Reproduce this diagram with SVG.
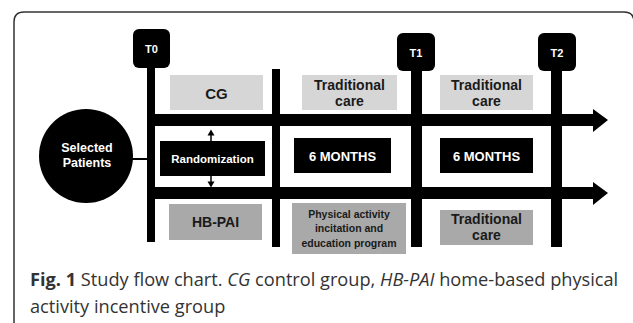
<svg xmlns="http://www.w3.org/2000/svg" width="633" height="323" viewBox="0 0 633 323">
<style>
.lbl{font-family:"Liberation Sans",Arial,sans-serif;font-weight:bold;text-anchor:middle}
.w{fill:#fff}
.k{fill:#1a1a1a}
.lt{fill:#d6d6d6}
.dk{fill:#a9a9a9}
.bar{fill:#000}
.cap{font-family:"Open Sans",sans-serif;font-size:18.2px;fill:#333}
</style>
<rect width="633" height="323" fill="#fff"/>
<path d="M14,330 L14,22 Q14,12 24,12 L624,12 Q634,12 634,22 L634,330" fill="none" stroke="#333" stroke-width="1.5"/>
<g id="connectors">
  <rect class="bar" x="147" y="68" width="8" height="174"/>
  <rect class="bar" x="272" y="69" width="8" height="178"/>
  <rect class="bar" x="411" y="71" width="11" height="176"/>
  <rect class="bar" x="551" y="71" width="11" height="176"/>
  <rect class="bar" x="147" y="114" width="448" height="12"/>
  <polygon class="bar" points="593,109 608,120 593,132"/>
  <rect class="bar" x="147" y="187" width="448" height="12"/>
  <polygon class="bar" points="593,182 608,193 593,205"/>
  <line x1="120" y1="159" x2="148" y2="159" stroke="#000" stroke-width="2"/>
  <line x1="211" y1="141" x2="211" y2="134" stroke="#000" stroke-width="1.5"/>
  <polygon class="bar" points="207.5,135.5 211,129.5 214.5,135.5"/>
  <line x1="211" y1="176" x2="211" y2="183" stroke="#000" stroke-width="1.5"/>
  <polygon class="bar" points="207.5,181.5 211,187.5 214.5,181.5"/>
</g>
<g id="patients">
  <circle cx="86" cy="156" r="47" fill="#000"/>
  <text class="lbl w" x="87" y="152" font-size="12.5">Selected</text>
  <text class="lbl w" x="87" y="167" font-size="12.5">Patients</text>
</g>
<g id="t0">
  <rect x="133" y="29" width="37" height="39" rx="6" fill="#000"/>
  <text class="lbl w" x="151.5" y="53" font-size="11">T0</text>
</g>
<g id="t1">
  <rect x="397" y="33" width="38" height="38" rx="6" fill="#000"/>
  <text class="lbl w" x="416" y="57" font-size="11">T1</text>
</g>
<g id="t2">
  <rect x="538" y="33" width="38" height="38" rx="6" fill="#000"/>
  <text class="lbl w" x="557" y="57" font-size="11">T2</text>
</g>
<g id="cg">
  <rect class="lt" x="170" y="75" width="93" height="35"/>
  <text class="lbl k" x="216.5" y="98.5" font-size="15">CG</text>
</g>
<g id="trad1">
  <rect class="lt" x="302" y="75" width="95" height="35"/>
  <text class="lbl k" x="349.5" y="90" font-size="14">Traditional</text>
  <text class="lbl k" x="349.5" y="106" font-size="14">care</text>
</g>
<g id="trad2">
  <rect class="lt" x="440" y="75" width="93" height="35"/>
  <text class="lbl k" x="486.5" y="90" font-size="14">Traditional</text>
  <text class="lbl k" x="486.5" y="106" font-size="14">care</text>
</g>
<g id="randomization">
  <rect x="160" y="141" width="105" height="35" fill="#000"/>
  <text class="lbl w" x="212.5" y="163" font-size="11.5">Randomization</text>
</g>
<g id="months1">
  <rect x="294" y="138" width="97" height="35" fill="#000"/>
  <text class="lbl w" x="342.5" y="161" font-size="13">6 MONTHS</text>
</g>
<g id="months2">
  <rect x="440" y="138" width="93" height="35" fill="#000"/>
  <text class="lbl w" x="486.5" y="161" font-size="13">6 MONTHS</text>
</g>
<g id="hbpai">
  <rect class="dk" x="169" y="204" width="93" height="36"/>
  <text class="lbl k" x="215.5" y="227" font-size="14">HB-PAI</text>
</g>
<g id="program">
  <rect class="dk" x="292" y="203" width="114" height="51"/>
  <text class="lbl k" x="349" y="218" font-size="10.5">Physical activity</text>
  <text class="lbl k" x="349" y="232" font-size="10.5">incitation and</text>
  <text class="lbl k" x="349" y="247" font-size="10.5">education  program</text>
</g>
<g id="trad3">
  <rect class="dk" x="440" y="210" width="93" height="35"/>
  <text class="lbl k" x="486.5" y="224" font-size="14">Traditional</text>
  <text class="lbl k" x="486.5" y="240" font-size="14">care</text>
</g>
<g id="caption">
  <text class="cap" x="30" y="286"><tspan font-weight="bold">Fig. 1</tspan> Study flow chart. <tspan font-style="italic">CG</tspan> control group, <tspan font-style="italic">HB-PAI</tspan> home-based physical</text>
  <text class="cap" x="30" y="313">activity incentive group</text>
</g>
</svg>
